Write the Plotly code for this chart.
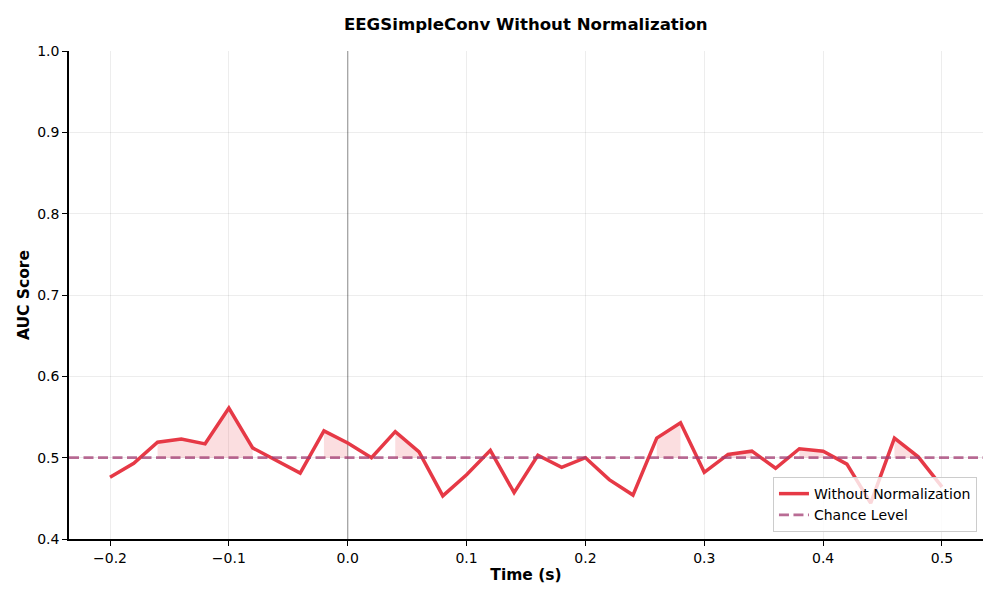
import plotly.graph_objects as go

time_s = [-0.20, -0.18, -0.16, -0.14, -0.12, -0.10, -0.08, -0.06, -0.04, -0.02,
          0.00, 0.02, 0.04, 0.06, 0.08, 0.10, 0.12, 0.14, 0.16, 0.18,
          0.20, 0.22, 0.24, 0.26, 0.28, 0.30, 0.32, 0.34, 0.36, 0.38,
          0.40, 0.42, 0.44, 0.46, 0.48, 0.50]
auc = [0.476, 0.493, 0.519, 0.523, 0.517, 0.561, 0.512, 0.496, 0.481, 0.533,
       0.518, 0.500, 0.532, 0.507, 0.453, 0.479, 0.509, 0.457, 0.503, 0.488,
       0.500, 0.473, 0.454, 0.524, 0.543, 0.482, 0.504, 0.508, 0.487, 0.511,
       0.508, 0.492, 0.444, 0.524, 0.501, 0.464]
chance = 0.5
x_ticks = [-0.2, -0.1, 0.0, 0.1, 0.2, 0.3, 0.4, 0.5]
y_ticks = [0.4, 0.5, 0.6, 0.7, 0.8, 0.9, 1.0]

LINE = "#E63946"
CHANCE = "rgba(162,59,114,0.75)"
FONT = "DejaVu Sans"
X_RANGE = [-0.2345, 0.5345]

fig = go.Figure()

# shaded regions where AUC > chance (contiguous runs, like fill_between where=)
runs = []
cur = []
for t, v in zip(time_s, auc):
    if v > chance:
        cur.append((t, v))
    else:
        if cur:
            runs.append(cur)
        cur = []
if cur:
    runs.append(cur)
for r in runs:
    if len(r) < 2:
        continue
    xs = [p[0] for p in r]
    ys = [p[1] for p in r]
    fig.add_trace(go.Scatter(x=xs + xs[::-1], y=ys + [chance] * len(xs),
                             fill="toself", fillcolor="rgba(230,57,70,0.17)",
                             line=dict(width=0), mode="lines", hoverinfo="skip",
                             showlegend=False))

fig.add_trace(go.Scatter(x=time_s, y=auc, mode="lines", name="Without Normalization",
                         line=dict(color=LINE, width=3.5)))
fig.add_trace(go.Scatter(x=X_RANGE, y=[chance, chance], mode="lines",
                         name="Chance Level",
                         line=dict(color=CHANCE, width=2.7, dash="10px,4.5px")))

fig.add_shape(type="line", x0=0, x1=0, y0=0, y1=1, yref="paper", xref="x",
              line=dict(color="rgba(128,128,128,0.6)", width=1.4), layer="below")

fig.update_layout(
    width=992, height=592,
    margin=dict(l=61, r=17, t=43, b=61, autoexpand=False),
    plot_bgcolor="white", paper_bgcolor="white",
    font=dict(family=FONT, size=14, color="black"),
    title=dict(text="<b>EEGSimpleConv Without Normalization</b>", x=0.522, xanchor="center",
               y=0.972, yanchor="middle", font=dict(size=16.6, family=FONT)),
    showlegend=True,
    legend=dict(x=0.9934, y=0.0143, xanchor="right", yanchor="bottom",
                bgcolor="rgba(255,255,255,0.8)", bordercolor="#cccccc", borderwidth=1,
                font=dict(size=14, family=FONT), tracegroupgap=0),
)
fig.update_xaxes(range=X_RANGE, tickvals=x_ticks, automargin=False,
                 ticktext=[("\u2212" if v < 0 else "") + f"{abs(v):.1f}" for v in x_ticks],
                 showgrid=True, gridcolor="rgba(0,0,0,0.07)", gridwidth=1,
                 showline=True, linecolor="black", linewidth=1.5,
                 ticks="outside", ticklen=5, tickcolor="black", zeroline=False,
                 title=dict(text="<b>Time (s)</b>", font=dict(size=15.5), standoff=5))
fig.update_yaxes(range=[0.4, 1.0], tickvals=y_ticks, automargin=False,
                 ticktext=[f"{v:.1f}" for v in y_ticks],
                 showgrid=True, gridcolor="rgba(0,0,0,0.07)", gridwidth=1,
                 showline=True, linecolor="black", linewidth=1.5,
                 ticks="outside", ticklen=5, tickcolor="black", zeroline=False,
                 title=dict(text="<b>AUC Score</b>", font=dict(size=15.5), standoff=4))

fig.write_html("out.html")
